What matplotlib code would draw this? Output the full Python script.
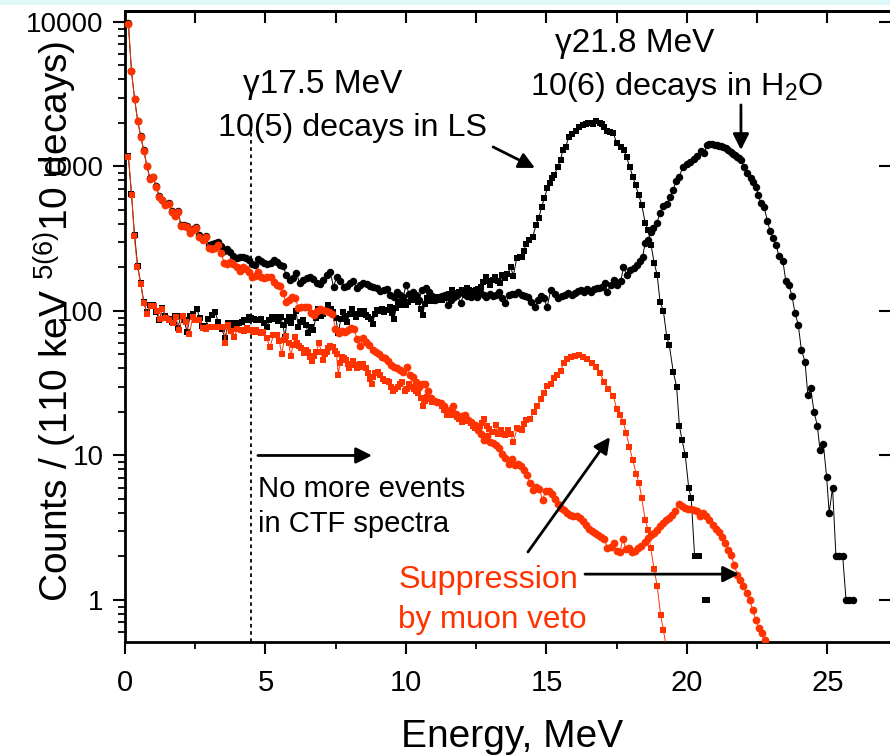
import numpy as np
import matplotlib
matplotlib.use("Agg")
import matplotlib.pyplot as plt
from matplotlib.patches import Rectangle
from matplotlib.ticker import FixedLocator, LogLocator, NullLocator, FuncFormatter, NullFormatter

plt.rcParams['font.family'] = ['Liberation Sans', 'DejaVu Sans']
plt.rcParams['mathtext.fontset'] = 'custom'
plt.rcParams['mathtext.rm'] = 'Liberation Sans'
plt.rcParams['mathtext.it'] = 'Liberation Sans:italic'
plt.rcParams['mathtext.default'] = 'regular'

RED = '#ff3300'

# (energy MeV, counts)
# 17.5 MeV gamma in LS, no veto (black squares)
ls_all = [
    (0.12, 1180), (0.23, 640), (0.34, 335), (0.45, 205), (0.56, 156), (0.67, 115), (0.78, 98),
    (0.89, 110), (1.0, 110), (1.11, 98), (1.22, 86), (1.33, 105), (1.44, 92), (1.55, 88),
    (1.66, 84), (1.77, 92), (1.88, 76), (1.99, 93), (2.1, 86), (2.21, 72), (2.32, 93), (2.43, 96),
    (2.55, 104), (2.66, 90), (2.73, 79), (2.85, 79), (2.97, 88), (3.09, 94), (3.2, 99), (3.32, 84),
    (3.44, 75), (3.56, 65), (3.68, 83), (3.76, 77), (3.88, 82), (3.97, 81), (4.06, 83), (4.15, 84),
    (4.24, 86), (4.33, 87), (4.42, 91), (4.5, 90), (4.58, 88), (4.66, 87), (4.75, 86), (4.83, 87.5),
    (4.94, 82), (5.04, 77), (5.13, 86), (5.22, 91), (5.3, 88), (5.37, 91), (5.46, 85), (5.54, 91),
    (5.62, 80), (5.69, 66), (5.77, 85), (5.85, 91), (5.92, 83), (5.99, 91), (6.08, 100), (6.17, 78),
    (6.26, 84), (6.35, 87), (6.44, 80), (6.52, 70), (6.61, 78), (6.7, 74), (6.79, 90), (6.88, 103),
    (6.97, 92), (7.06, 95), (7.15, 100), (7.24, 110), (7.32, 104), (7.41, 99), (7.5, 90), (7.59, 70),
    (7.68, 88), (7.77, 99), (7.84, 92), (7.91, 84), (7.99, 95), (8.07, 103), (8.15, 96), (8.22, 91),
    (8.29, 95), (8.36, 99.6), (8.44, 96), (8.51, 100), (8.59, 94), (8.66, 91), (8.74, 88), (8.81, 81),
    (8.89, 95), (8.96, 102), (9.05, 100), (9.13, 103), (9.22, 98), (9.31, 102), (9.37, 101),
    (9.43, 106), (9.5, 97), (9.57, 87.5), (9.65, 105), (9.73, 116), (9.82, 110), (9.9, 113),
    (9.99, 110), (10.08, 116), (10.17, 120), (10.26, 127), (10.35, 120), (10.44, 116), (10.52, 104),
    (10.59, 94), (10.67, 112), (10.74, 122), (10.83, 118), (10.91, 120), (11.0, 118), (11.09, 124),
    (11.18, 120), (11.27, 119), (11.36, 125), (11.45, 122), (11.54, 132), (11.63, 140), (11.72, 133),
    (11.8, 129), (11.89, 136), (11.98, 140), (12.07, 138), (12.16, 144), (12.25, 140), (12.34, 138),
    (12.42, 136), (12.49, 140), (12.58, 142), (12.66, 147), (12.75, 158), (12.84, 171), (12.92, 160),
    (12.99, 151), (13.08, 165), (13.17, 171), (13.26, 160), (13.35, 156), (13.42, 177), (13.52, 168),
    (13.6, 180), (13.73, 200), (13.82, 175), (13.94, 232), (14.04, 236), (14.12, 235), (14.2, 262),
    (14.27, 291), (14.39, 310), (14.51, 327), (14.63, 393), (14.72, 438), (14.83, 527), (14.92, 602),
    (15.03, 707), (15.12, 773), (15.2, 830), (15.28, 873), (15.4, 998), (15.5, 1110), (15.58, 1300),
    (15.68, 1371), (15.8, 1607), (15.92, 1672), (16.05, 1770), (16.17, 1885), (16.31, 1937),
    (16.4, 1980), (16.49, 2009), (16.58, 1990), (16.67, 1966), (16.76, 2075), (16.9, 2009),
    (16.98, 1960), (17.05, 1885), (17.16, 1770), (17.27, 1730), (17.38, 1700), (17.5, 1445),
    (17.64, 1371), (17.76, 1300), (17.85, 1158), (17.97, 986), (18.07, 850), (18.17, 745),
    (18.28, 635), (18.39, 542), (18.51, 408), (18.62, 363), (18.72, 286), (18.83, 216), (18.94, 177),
    (19.04, 116), (19.16, 100), (19.28, 66), (19.37, 58), (19.51, 38), (19.63, 30), (19.73, 16),
    (19.82, 12.9), (19.94, 10), (20.06, 6.0), (20.15, 5.06), (20.27, 2.02), (20.42, 2.02),
    (20.53, np.nan), (20.64, 1.0), (20.72, 1.0),
]

# 21.8 MeV gamma in H2O, no veto (black circles)
h2o_all = [
    (0.12, 9800), (0.23, 4600), (0.34, 2950), (0.45, 2080), (0.56, 1620), (0.67, 1290), (0.78, 1010),
    (0.89, 830), (1.0, 850), (1.11, 730), (1.22, 620), (1.33, 590), (1.44, 550), (1.55, 555),
    (1.66, 490), (1.77, 460), (1.88, 490), (1.99, 395), (2.1, 392), (2.21, 390), (2.32, 355),
    (2.43, 370), (2.54, 380), (2.65, 335), (2.76, 318), (2.87, 330), (2.98, 285), (3.09, 290),
    (3.2, 296), (3.31, 300), (3.42, 280), (3.53, 262), (3.64, 270), (3.75, 257), (3.86, 240),
    (3.97, 232), (4.08, 238), (4.19, 238), (4.3, 232), (4.41, 225), (4.52, 211), (4.63, 208),
    (4.74, 228), (4.85, 222), (4.96, 214), (5.07, 211), (5.18, 216), (5.29, 225), (5.4, 218),
    (5.51, 208), (5.62, 205), (5.74, 177), (5.86, 164), (5.98, 168), (6.1, 182), (6.22, 156),
    (6.34, 164), (6.46, 168), (6.58, 173), (6.7, 166), (6.82, 156), (6.94, 154), (7.06, 164),
    (7.18, 177), (7.3, 187), (7.42, 147), (7.54, 173), (7.66, 160), (7.78, 147), (7.9, 150),
    (8.0, 156), (8.12, 162), (8.24, 144), (8.36, 152), (8.48, 156), (8.6, 154), (8.72, 150),
    (8.84, 147), (8.96, 144), (9.08, 138), (9.2, 140), (9.32, 141), (9.44, 129), (9.56, 124),
    (9.68, 136), (9.8, 128), (9.9, 124), (10.0, 151), (10.12, 131), (10.24, 136), (10.36, 128),
    (10.46, 119), (10.58, 140), (10.7, 144), (10.82, 135), (10.92, 126), (11.04, 119), (11.16, 124),
    (11.28, 127), (11.38, 129), (11.48, 110), (11.6, 119), (11.72, 125), (11.82, 129), (11.94, 113),
    (12.06, 131), (12.18, 126), (12.3, 124), (12.4, 129), (12.52, 124), (12.64, 136), (12.76, 130),
    (12.86, 124), (12.98, 131), (13.1, 126), (13.22, 130), (13.3, 136), (13.42, 122), (13.54, 113),
    (13.66, 128), (13.76, 132), (13.88, 131), (14.0, 136), (14.12, 129), (14.24, 126), (14.34, 124),
    (14.46, 116), (14.58, 106), (14.7, 119), (14.8, 126), (14.92, 122), (15.02, 106), (15.15, 140),
    (15.3, 131), (15.42, 122), (15.54, 126), (15.66, 130), (15.76, 133), (15.9, 128), (16.02, 134),
    (16.12, 138), (16.22, 140), (16.32, 136), (16.45, 141), (16.57, 136), (16.68, 142), (16.78, 145),
    (16.88, 144), (16.98, 147), (17.08, 157), (17.16, 136), (17.28, 151), (17.4, 164), (17.52, 151),
    (17.64, 160), (17.74, 200), (17.86, 177), (17.97, 192), (18.1, 198), (18.21, 208), (18.33, 223),
    (18.42, 238), (18.51, 294), (18.62, 310), (18.72, 354), (18.8, 373), (18.92, 404), (19.04, 474),
    (19.16, 533), (19.28, 550), (19.4, 618), (19.51, 687), (19.61, 797), (19.73, 850), (19.85, 997),
    (19.99, 1040), (20.11, 1080), (20.25, 1120), (20.37, 1183), (20.49, 1285), (20.6, 1233),
    (20.72, 1408), (20.8, 1420), (20.88, 1431), (21.0, 1408), (21.08, 1400), (21.15, 1387),
    (21.22, 1380), (21.29, 1371), (21.38, 1340), (21.47, 1300), (21.55, 1260), (21.63, 1222),
    (21.7, 1195), (21.77, 1170), (21.84, 1140), (21.91, 1110), (22.03, 998), (22.15, 898),
    (22.27, 829), (22.36, 785), (22.46, 725), (22.54, 635), (22.62, 562), (22.74, 527), (22.86, 422),
    (22.95, 360), (23.07, 319), (23.17, 286), (23.27, 240), (23.41, 223), (23.52, 160), (23.63, 151),
    (23.74, 126), (23.84, 97.5), (23.96, 80), (24.07, 54), (24.2, 44.6), (24.3, 26.2), (24.4, 29.2),
    (24.52, 20.1), (24.64, 16), (24.73, 11), (24.85, 12.1), (24.97, 7.07), (25.06, 4.0), (25.18, 6.0),
    (25.3, 2.02), (25.42, 2.02), (25.54, 2.02), (25.66, 1.0), (25.78, 1.0), (25.92, 1.0),
]

# LS, muon veto applied (red squares)
ls_veto = [
    (0.12, 1170), (0.24, 635), (0.33, 330), (0.44, 203), (0.56, 154), (0.67, 113), (0.79, 96),
    (0.91, 109), (1.03, 109), (1.14, 100), (1.25, 88), (1.33, 104), (1.46, 90), (1.58, 87), (1.7, 83),
    (1.81, 91), (1.93, 74), (2.05, 92), (2.17, 84), (2.29, 69), (2.41, 91), (2.5, 86), (2.63, 87),
    (2.76, 76), (2.88, 75), (3.0, 77), (3.12, 78), (3.24, 77), (3.36, 77), (3.5, 78), (3.56, 60),
    (3.66, 80), (3.76, 73), (3.88, 66), (4.0, 75), (4.12, 74), (4.23, 73), (4.35, 76), (4.45, 74),
    (4.57, 72), (4.66, 74), (4.74, 71), (4.83, 70), (4.92, 72), (5.04, 65), (5.16, 56), (5.28, 68),
    (5.4, 68), (5.49, 62), (5.58, 50), (5.66, 63), (5.73, 67), (5.82, 60), (5.9, 49), (5.98, 58),
    (6.05, 66), (6.12, 60), (6.2, 57), (6.28, 55), (6.37, 51), (6.45, 54), (6.52, 52), (6.6, 48),
    (6.67, 45), (6.74, 49), (6.8, 52), (6.91, 60), (6.98, 52), (7.04, 46), (7.11, 50), (7.18, 52),
    (7.24, 55), (7.3, 57), (7.39, 56), (7.46, 53), (7.53, 50), (7.59, 36), (7.65, 44), (7.71, 48),
    (7.78, 47), (7.86, 46), (7.92, 43), (7.98, 40), (8.04, 43), (8.1, 45), (8.17, 42), (8.24, 40),
    (8.3, 42), (8.36, 43), (8.42, 41), (8.48, 43), (8.57, 40), (8.66, 37), (8.72, 34), (8.78, 31),
    (8.84, 35), (8.9, 37), (9.01, 38), (9.09, 36), (9.17, 34), (9.24, 33), (9.31, 33), (9.39, 32),
    (9.47, 30), (9.55, 28), (9.62, 29), (9.7, 30), (9.78, 31), (9.85, 32), (9.95, 28), (10.03, 29),
    (10.12, 31), (10.2, 30), (10.28, 29), (10.36, 28), (10.44, 27), (10.52, 25), (10.59, 22),
    (10.67, 24), (10.74, 25.5), (10.83, 24.5), (10.91, 23.6), (11.0, 24), (11.09, 23.6), (11.18, 23),
    (11.27, 22), (11.37, 20.5), (11.47, 19), (11.56, 19.2), (11.66, 19.6), (11.74, 19), (11.83, 18.6),
    (11.9, 17.8), (11.98, 17), (12.06, 17.3), (12.14, 17.6), (12.22, 17.2), (12.3, 16.7), (12.38, 16),
    (12.46, 15.4), (12.54, 15.7), (12.63, 16), (12.7, 16.9), (12.78, 18), (12.89, 16), (12.97, 15.2),
    (13.05, 14.6), (13.13, 14.6), (13.2, 16.3), (13.29, 14), (13.37, 15), (13.46, 14), (13.52, 13.9),
    (13.64, 15), (13.73, 14), (13.82, 12.4), (13.96, 15.6), (14.04, 15.2), (14.12, 15), (14.2, 16.5),
    (14.27, 17.6), (14.41, 18), (14.56, 20.1), (14.67, 22), (14.79, 24.5), (14.91, 27.2),
    (15.03, 30.3), (15.15, 31.3), (15.27, 34.2), (15.39, 36), (15.5, 38.6), (15.62, 43.9),
    (15.74, 46.3), (15.86, 47.9), (16.01, 48.9), (16.17, 49.6), (16.31, 48.4), (16.45, 46.3),
    (16.61, 43.4), (16.76, 40.7), (16.9, 37.4), (17.05, 32.4), (17.2, 28.7), (17.38, 25.8),
    (17.5, 20.9), (17.62, 19.1), (17.73, 17.1), (17.84, 14.2), (17.95, 11.5), (18.07, 9.3),
    (18.19, 7.5), (18.3, 6.4), (18.39, 5.06), (18.51, 3.6), (18.62, 3.05), (18.71, 2.28),
    (18.83, 1.63), (18.94, 1.25), (19.06, 0.79), (19.16, 0.62), (19.26, 0.48),
]

# H2O, muon veto applied (red circles)
h2o_veto = [
    (0.12, 9700), (0.23, 4570), (0.34, 2930), (0.45, 2065), (0.56, 1600), (0.67, 1280), (0.78, 1000),
    (0.89, 820), (1.0, 845), (1.11, 720), (1.22, 615), (1.33, 585), (1.44, 540), (1.55, 550),
    (1.66, 485), (1.77, 455), (1.88, 485), (1.99, 387), (2.1, 387), (2.21, 381), (2.32, 347),
    (2.43, 363), (2.54, 375), (2.65, 325), (2.76, 310), (2.87, 325), (2.98, 273), (3.09, 269),
    (3.2, 273), (3.31, 286), (3.42, 252), (3.53, 215), (3.64, 211), (3.75, 218), (3.86, 211),
    (3.97, 201), (4.08, 189), (4.19, 201), (4.3, 195), (4.41, 186), (4.52, 172), (4.63, 175),
    (4.74, 186), (4.85, 172), (4.96, 169), (5.07, 172), (5.18, 172), (5.29, 158), (5.4, 151),
    (5.51, 149), (5.62, 133), (5.73, 115), (5.84, 119), (5.95, 125), (6.06, 123), (6.17, 105),
    (6.28, 107), (6.39, 107), (6.5, 107), (6.61, 97), (6.72, 94), (6.83, 100), (6.94, 103),
    (7.05, 102), (7.16, 100), (7.27, 98), (7.38, 96), (7.49, 75), (7.6, 70), (7.71, 73), (7.82, 72),
    (7.93, 74), (8.04, 76), (8.15, 75), (8.26, 64), (8.37, 57), (8.48, 65), (8.59, 61), (8.7, 58),
    (8.81, 54), (8.92, 52), (9.03, 50), (9.14, 48), (9.25, 47), (9.36, 45), (9.47, 42), (9.58, 41),
    (9.69, 40), (9.8, 39), (9.91, 38), (10.02, 41), (10.13, 36), (10.24, 35), (10.35, 32),
    (10.46, 30), (10.57, 31), (10.68, 31), (10.79, 28), (10.9, 25), (11.01, 24), (11.12, 23.6),
    (11.23, 23), (11.34, 22), (11.45, 20), (11.56, 20.6), (11.67, 22), (11.78, 19.5), (11.89, 18.5),
    (12.0, 18.8), (12.11, 19), (12.22, 17.5), (12.33, 17), (12.44, 16.2), (12.55, 15), (12.66, 14),
    (12.77, 12.8), (12.88, 13.6), (12.99, 12.4), (13.1, 12.2), (13.21, 11.8), (13.32, 11.2),
    (13.43, 10.2), (13.54, 9.6), (13.65, 8.8), (13.76, 9.4), (13.87, 8.6), (13.98, 8.8), (14.09, 8.4),
    (14.2, 7.9), (14.31, 7.3), (14.42, 6.4), (14.53, 5.8), (14.64, 6.1), (14.75, 5.9), (14.86, 4.9),
    (14.97, 5.7), (15.08, 5.7), (15.19, 5.4), (15.3, 5.0), (15.41, 4.6), (15.52, 4.3), (15.63, 4.2),
    (15.74, 4.0), (15.85, 3.9), (15.96, 3.8), (16.07, 3.8), (16.18, 3.7), (16.29, 3.5), (16.4, 3.3),
    (16.51, 3.1), (16.62, 3.0), (16.73, 2.9), (16.84, 2.8), (16.95, 2.72), (17.06, 2.63),
    (17.17, 2.28), (17.28, 2.34), (17.39, 2.49), (17.5, 2.19), (17.61, 2.14), (17.72, 2.63),
    (17.83, 2.24), (17.94, 2.28), (18.05, 2.16), (18.16, 2.2), (18.27, 2.28), (18.38, 2.37),
    (18.49, 2.5), (18.6, 2.7), (18.71, 2.82), (18.82, 2.9), (18.93, 3.05), (19.04, 3.25),
    (19.15, 3.43), (19.26, 3.58), (19.37, 3.7), (19.48, 3.87), (19.59, 4.15), (19.7, 4.6),
    (19.81, 4.5), (19.92, 4.3), (20.03, 4.25), (20.14, 4.25), (20.25, 4.2), (20.36, 4.15),
    (20.47, 3.8), (20.58, 4.0), (20.69, 3.8), (20.8, 3.55), (20.91, 3.3), (21.02, 3.08),
    (21.13, 2.97), (21.24, 2.72), (21.35, 2.47), (21.46, 2.22), (21.57, 2.05), (21.68, 1.75),
    (21.79, 1.5), (21.9, 1.37), (22.01, 1.24), (22.12, 1.11), (22.23, 1.0), (22.34, 0.85),
    (22.45, 0.73), (22.56, 0.64), (22.67, 0.59), (22.78, 0.53),
]

y_ticks = [1, 10, 100, 1000, 10000]
x_ticks = [0, 5, 10, 15, 20, 25]


def split(pairs):
    a = np.array(pairs, dtype=float)
    return a[:, 0], a[:, 1]


fig = plt.figure(figsize=(8.9, 7.55), dpi=100)
fig.patches.append(Rectangle((0, 1 - 5 / 755), 1, 5 / 755, transform=fig.transFigure,
                             facecolor='#e0f8f8', edgecolor='none', zorder=0))
ax = fig.add_axes([125 / 890, 1 - 642 / 755, (891 - 125) / 890, (642 - 11) / 755])

e, n = split(ls_all)
ax.plot(e, n, '-s', color='k', lw=0.7, ms=4.6, mew=0, zorder=3)
e, n = split(h2o_all)
ax.plot(e, n, '-o', color='k', lw=0.7, ms=5.4, mew=0, zorder=3)
e, n = split(ls_veto)
ax.plot(e, n, '-s', color=RED, lw=0.7, ms=4.6, mew=0, zorder=4)
e, n = split(h2o_veto)
ax.plot(e, n, '-o', color=RED, lw=0.7, ms=5.6, mew=0, zorder=4)

ax.set_yscale('log')
ax.set_xlim(0, 27.26)
ax.set_ylim(0.512, 11910)

# dotted line at 4.5 MeV
ax.plot([4.48, 4.48], [0.512, 1900], color='k', lw=1.3, ls=(0, (2, 2)), zorder=2)

for s in ['left', 'top', 'bottom']:
    ax.spines[s].set_linewidth(2)
ax.spines['right'].set_visible(False)

ax.xaxis.set_major_locator(FixedLocator(x_ticks))
ax.xaxis.set_minor_locator(FixedLocator([2.5, 7.5, 12.5, 17.5, 22.5]))
ax.yaxis.set_major_locator(FixedLocator(y_ticks))
ax.yaxis.set_minor_locator(LogLocator(base=10, subs=np.arange(2, 10)))
ax.yaxis.set_minor_formatter(NullFormatter())
ax.yaxis.set_major_formatter(FuncFormatter(lambda v, p: f'{v:g}'))
ax.tick_params(axis='both', which='major', direction='out', length=8.5, width=1.5,
               labelsize=20, top=False, right=False)
ax.tick_params(axis='y', which='major', pad=7)
ax.tick_params(axis='x', which='major', pad=11, labelsize=21)
ax.tick_params(axis='both', which='minor', direction='out', length=5, width=1.3,
               top=False, right=False)

sec_y = ax.secondary_yaxis('right')
sec_y.yaxis.set_major_locator(FixedLocator(y_ticks))
sec_y.yaxis.set_minor_locator(NullLocator())
sec_y.tick_params(which='major', direction='in', length=8.5, width=1.5, labelright=False)
sec_y.spines['right'].set_visible(False)

sec_x = ax.secondary_xaxis('top')
sec_x.xaxis.set_major_locator(FixedLocator(np.arange(0, 27.5, 2.5)))
sec_x.xaxis.set_minor_locator(NullLocator())
sec_x.tick_params(which='major', direction='in', length=8.5, width=1.5, labeltop=False)
sec_x.spines['top'].set_linewidth(2)

fig.text(512 / 890, 1 - 747 / 755, 'Energy, MeV', fontsize=28, ha='center', va='baseline')
fig.text(55 / 890, 1 - 321 / 755, 'Counts / (110 keV $^{5(6)}$10 decays)', fontsize=28,
         rotation=90, ha='center', va='center')

# annotations
ax.text(4.2, 3230, 'γ17.5 MeV', fontsize=24, ha='left', va='baseline')
ax.text(3.31, 1625, '10(5) decays in LS', fontsize=23.2, ha='left', va='baseline')
ax.text(15.3, 6200, 'γ21.8 MeV', fontsize=24, ha='left', va='baseline')
ax.text(14.41, 3126, '10(6) decays in H$_2$O', fontsize=23.3, ha='left', va='baseline')
ax.text(4.73, 5.17, 'No more events', fontsize=21.2, ha='left', va='baseline')
ax.text(4.73, 2.96, 'in CTF spectra', fontsize=21, ha='left', va='baseline')
ax.text(9.72, 1.21, 'Suppression', fontsize=23.3, ha='left', va='baseline', color=RED)
ax.text(9.72, 0.64, 'by muon veto', fontsize=22.6, ha='left', va='baseline', color=RED)

arrow = dict(arrowstyle='-|>', mutation_scale=24, lw=2, color='k', shrinkA=0, shrinkB=0)
ax.annotate('', xy=(14.59, 977), xytext=(13.1, 1365), arrowprops=arrow, zorder=5)
ax.annotate('', xy=(21.92, 1300), xytext=(21.92, 2667), arrowprops=arrow, zorder=5)
ax.annotate('', xy=(8.79, 10), xytext=(4.73, 10), arrowprops=arrow, zorder=5)
ax.annotate('', xy=(17.26, 13.4), xytext=(14.34, 2.15), arrowprops=arrow, zorder=5)
ax.annotate('', xy=(21.85, 1.51), xytext=(16.37, 1.51), arrowprops=arrow, zorder=5)

fig.savefig('out.png', dpi=100)
